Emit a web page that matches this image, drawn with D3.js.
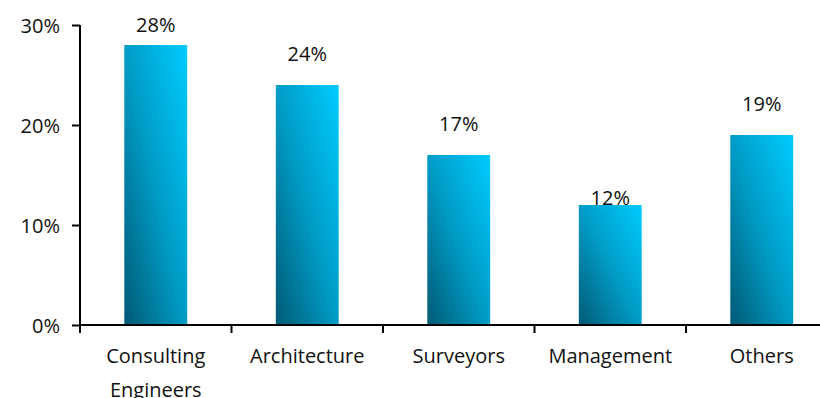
<!DOCTYPE html>
<html lang="en">
<head>
<meta charset="utf-8">
<script src="https://d3js.org/d3.v7.min.js"></script>
<style>
  body { margin: 0; background: #fff; }
  text { font-family: "Open Sans", "Noto Sans", sans-serif; fill: #111; }
</style>
</head>
<body>
<div id="chart"></div>
<script>
// data
var categories = [["Consulting", "Engineers"], ["Architecture"], ["Surveyors"], ["Management"], ["Others"]];
var shares = [28, 24, 17, 12, 19];
var yTicks = [0, 10, 20, 30];

// how far each value label sits above its bar (px)
var labelLift = [13, 24, 24, 0, 24];

var W = 820, H = 398;
var margin = {top: 25, left: 80, bottom: 73};

var svg = d3.select("#chart").append("svg")
    .attr("width", W)
    .attr("height", H);

var grad = svg.append("defs").append("linearGradient")
    .attr("id", "barFill")
    .attr("x1", 0).attr("y1", 1)
    .attr("x2", 1).attr("y2", 0);
grad.append("stop").attr("offset", 0).attr("stop-color", "#005a74");
grad.append("stop").attr("offset", 0.5).attr("stop-color", "#009cc6");
grad.append("stop").attr("offset", 1).attr("stop-color", "#00ccff");

var x = d3.scaleBand()
    .domain(d3.range(categories.length))
    .range([margin.left, margin.left + 151.5 * categories.length])
    .paddingInner(0.585)
    .paddingOuter(0.2925);

var y = d3.scaleLinear()
    .domain([0, 30])
    .range([H - margin.bottom, margin.top]);

// bars
svg.append("g").selectAll("rect")
  .data(shares)
  .enter().append("rect")
    .attr("x", function(d, i) { return x(i); })
    .attr("y", function(d) { return y(d); })
    .attr("width", x.bandwidth())
    .attr("height", function(d) { return y(0) - y(d); })
    .attr("fill", "url(#barFill)");

// value labels
svg.append("g").selectAll("text")
  .data(shares)
  .enter().append("text")
    .attr("x", function(d, i) { return x(i) + x.bandwidth() / 2; })
    .attr("y", function(d, i) { return y(d) - labelLift[i]; })
    .attr("text-anchor", "middle")
    .style("font-size", "20px")
    .text(function(d) { return d + "%"; });

// y axis
var yAxis = d3.axisLeft(y)
    .tickValues(yTicks)
    .tickSize(8)
    .tickPadding(12)
    .tickFormat(function(d) { return d + "%"; });

var gy = svg.append("g")
    .attr("transform", "translate(" + margin.left + ",0)")
    .call(yAxis);
gy.select(".domain").attr("d", "M0," + y(30) + "V" + y(0));
gy.selectAll("line, path").attr("stroke", "#000").attr("stroke-width", 2);
gy.selectAll("text").style("font-size", "20px").attr("dy", "0.35em");

// x axis: line with ticks between categories
var gx = svg.append("g");
gx.append("line")
    .attr("x1", margin.left).attr("x2", W)
    .attr("y1", y(0)).attr("y2", y(0))
    .attr("stroke", "#000").attr("stroke-width", 2);
var step = x.step();
gx.selectAll(".tick")
  .data(d3.range(categories.length))
  .enter().append("line")
    .attr("x1", function(i) { return x(i) - x.paddingOuter() * step; })
    .attr("x2", function(i) { return x(i) - x.paddingOuter() * step; })
    .attr("y1", y(0)).attr("y2", y(0) + 8)
    .attr("stroke", "#000").attr("stroke-width", 2);

var cat = gx.selectAll(".cat")
  .data(categories)
  .enter().append("text")
    .attr("class", "cat")
    .attr("text-anchor", "middle")
    .attr("transform", function(d, i) { return "translate(" + (x(i) + x.bandwidth() / 2) + "," + (y(0) + 38) + ")"; })
    .style("font-size", "20px");
cat.selectAll("tspan")
  .data(function(d) { return d; })
  .enter().append("tspan")
    .attr("x", 0)
    .attr("dy", function(d, j) { return j === 0 ? 0 : 34; })
    .text(function(d) { return d; });
</script>
</body>
</html>
